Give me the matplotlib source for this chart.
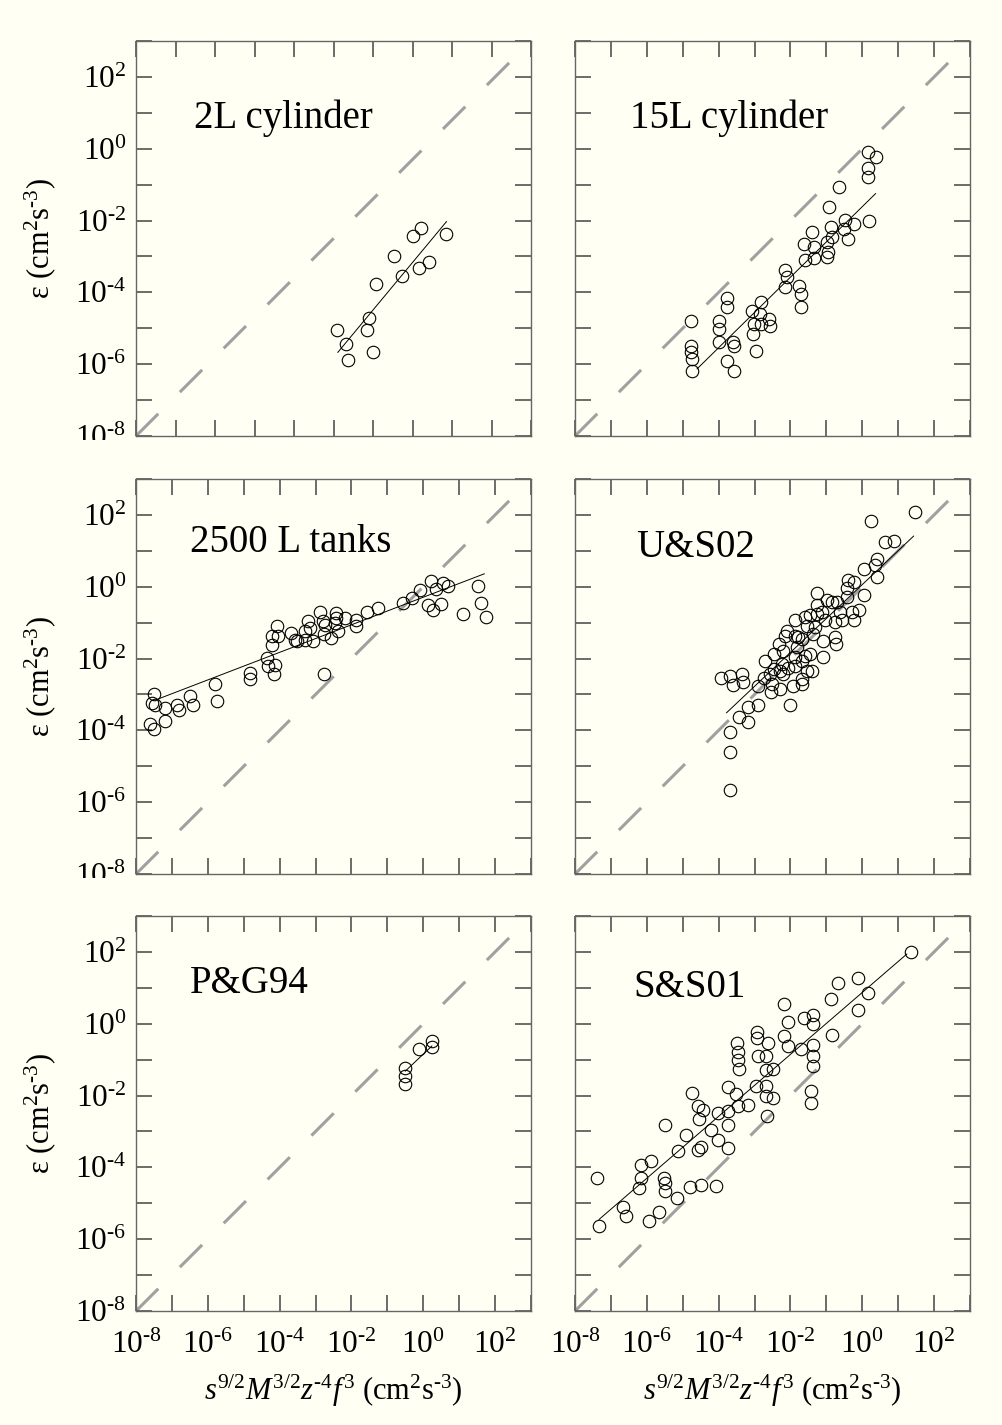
import numpy as np
import matplotlib
matplotlib.use("Agg")
import matplotlib.pyplot as plt
from matplotlib.ticker import FixedLocator, FuncFormatter, NullLocator
from matplotlib.transforms import Bbox, TransformedBbox

plt.rcParams['font.family'] = 'serif'
plt.rcParams['font.serif'] = ['Liberation Serif', 'DejaVu Serif']
plt.rcParams['mathtext.fontset'] = 'custom'
plt.rcParams['mathtext.rm'] = 'Liberation Serif'
plt.rcParams['mathtext.it'] = 'Liberation Serif:italic'

# all values are log10 of the plotted quantity
# 2L cylinder
cyl2_x = [-2.92, -2.68, -2.64, -2.16, -2.09, -2.01, -1.92, -1.48, -1.27, -0.98, -0.78, -0.83, -0.57, -0.14]
cyl2_y = [-5.06, -5.43, -5.88, -5.04, -4.72, -5.65, -3.77, -3.00, -3.55, -2.42, -2.22, -3.31, -3.16, -2.38]
cyl2_fit = ([-2.89, -0.14], [-5.67, -2.03])

# 15L cylinder
cyl15_x = [-4.76, -4.76, -4.76, -4.74, -4.74, -4.00, -3.98, -4.00, -3.78, -3.78, -3.61, -3.58,
           -3.76, -3.58, -3.07, -3.02, -3.04, -2.96, -2.81, -2.84, -2.81, -2.59, -2.56, -2.14,
           -2.09, -2.14, -1.77, -1.72, -1.72, -1.63, -1.60, -1.40, -1.35, -1.35, -0.98, -0.96,
           -0.98, -0.93, -0.87, -0.84, -0.48, -0.51, -0.39, -0.23, -0.65, 0.17, 0.37, 0.17,
           0.17, 0.19]
cyl15_y = [-4.79, -5.48, -5.67, -5.86, -6.20, -4.79, -5.02, -5.39, -4.15, -4.41, -5.39, -5.48,
           -5.92, -6.20, -4.51, -4.88, -5.16, -5.64, -4.27, -4.60, -4.88, -4.74, -4.93, -3.39,
           -3.58, -3.86, -3.81, -4.04, -4.40, -2.65, -3.11, -2.32, -2.74, -3.05, -2.60, -2.88,
           -3.02, -1.62, -2.18, -2.46, -1.98, -2.23, -2.51, -2.09, -1.07, -0.09, -0.23, -0.55,
           -0.79, -2.00]
cyl15_fit = ([-4.60, 0.37], [-6.13, -1.25])

# 2500 L tanks
tank_x = [-7.51, -7.56, -7.46, -7.60, -7.51, -7.19, -7.19, -6.86, -6.81, -6.49, -6.40, -5.80,
          -5.75, -4.82, -4.82, -4.36, -4.33, -4.13, -4.15, -4.22, -4.22, -4.08, -4.04, -3.67,
          -3.53, -3.30, -3.20, -3.06, -2.88, -3.16, -2.79, -2.76, -2.74, -2.56, -2.44, -2.42,
          -2.37, -2.19, -1.88, -1.86, -1.58, -1.26, -0.56, -0.31, -0.10, 0.22, 0.36, 0.55,
          0.69, 0.13, 0.27, 0.50, 1.10, 1.52, 1.61, 1.75, -2.76, -3.30, -3.57, -2.46]
tank_y = [-3.00, -3.23, -3.28, -3.83, -3.97, -3.37, -3.74, -3.28, -3.44, -3.05, -3.28, -2.72,
          -3.17, -2.40, -2.58, -1.98, -2.21, -2.17, -2.42, -1.38, -1.61, -1.10, -1.38, -1.29,
          -1.52, -1.47, -0.96, -1.52, -0.69, -1.15, -0.96, -1.33, -1.06, -1.43, -0.73, -0.87,
          -1.24, -0.87, -0.92, -1.10, -0.69, -0.59, -0.45, -0.31, -0.08, 0.15, -0.06, 0.10,
          0.01, -0.50, -0.64, -0.47, -0.75, 0.03, -0.45, -0.84, -2.44, -1.24, -1.47, -1.01]
tank_fit = ([-7.42, 1.70], [-3.14, 0.36])

# U&S02
us02_x = [1.46, 0.25, 0.64, 0.87, 0.41, 0.36, 0.41, 0.04, 0.04, -0.40, -0.43, -0.24, -1.25,
          -1.27, -0.99, -0.71, -0.61, -0.29, -0.24, -0.57, -0.75, -1.03, -1.45, -1.59, -1.54,
          -1.31, -1.87, -2.10, -1.87, -1.78, -2.15, -1.08, -0.75, -0.73, -1.36, -1.68, -1.82,
          -2.20, -2.47, -1.87, -1.59, -1.45, -1.08, -1.68, -2.24, -1.87, -1.54, -1.40, -2.06,
          -2.29, -2.47, -2.20, -1.68, -1.92, -1.68, -2.57, -2.75, -2.52, -2.89, -2.55, -2.29,
          -2.01, -2.89, -3.17, -3.42, -3.17, -3.68, -3.68, -3.68, -3.94, -3.68, -3.59, -3.36,
          -3.31, -1.27, -1.13, -0.85, -0.43, -0.10, -2.33, -2.71]
us02_y = [2.07, 1.84, 1.25, 1.28, 0.76, 0.60, 0.27, 0.50, -0.24, 0.20, -0.03, 0.13, -0.18,
          -0.52, -0.38, -0.43, -0.71, -0.71, -0.94, -0.94, -0.99, -0.94, -0.80, -0.85, -1.08,
          -1.13, -0.94, -1.22, -1.36, -1.41, -1.36, -1.50, -1.41, -1.60, -1.32, -1.46, -1.69,
          -1.79, -1.86, -1.97, -1.93, -1.88, -1.97, -2.07, -2.16, -2.21, -2.35, -2.35, -2.25,
          -2.35, -2.30, -2.44, -2.58, -2.77, -2.72, -2.44, -2.55, -2.72, -2.77, -2.93, -2.86,
          -3.28, -3.28, -3.36, -3.64, -3.77, -4.05, -4.61, -5.66, -2.55, -2.49, -2.74, -2.42,
          -2.64, -0.76, -0.71, -0.43, -0.29, -0.66, -1.60, -2.07]
us02_fit = ([-3.78, 1.43], [-3.51, 1.41])

# P&G94
pg94_x = [-0.50, -0.50, -0.50, -0.12, 0.24, 0.24]
pg94_y = [-1.24, -1.45, -1.67, -0.70, -0.49, -0.65]
pg94_fit = ([-0.50, 0.24], [-1.32, -0.62])

# S&S01
ss01_x = [1.35, -0.11, -0.67, 0.15, -0.88, -0.11, -2.19, -1.63, -1.37, -2.07, -1.37, -2.19,
          -2.07, -0.84, -1.70, -1.37, -1.37, -1.37, -1.42, -1.42, -2.93, -2.93, -2.91, -2.63,
          -2.67, -2.49, -2.69, -3.48, -3.47, -3.47, -3.42, -3.74, -3.51, -3.47, -3.19, -2.95,
          -2.67, -2.69, -2.49, -2.66, -4.74, -4.58, -4.44, -4.54, -4.02, -3.74, -3.74, -4.21,
          -4.02, -3.73, -4.91, -5.14, -4.58, -4.49, -5.49, -5.89, -6.17, -6.17, -6.21, -5.51,
          -5.49, -5.49, -5.17, -4.80, -4.49, -4.07, -7.38, -6.66, -6.58, -7.33, -5.93, -5.65]
ss01_y = [1.99, 1.26, 1.13, 0.85, 0.70, 0.38, 0.54, 0.17, 0.23, 0.05, -0.02, -0.34,
          -0.62, -0.30, -0.70, -0.60, -0.90, -1.18, -1.88, -2.22, -0.23, -0.39, -0.90, -0.53,
          -0.90, -1.27, -1.29, -0.53, -0.79, -1.01, -1.27, -1.76, -1.97, -2.28, -2.25, -1.74,
          -1.74, -2.02, -2.07, -2.58, -1.94, -2.30, -2.39, -2.65, -2.48, -2.44, -2.81, -2.95,
          -3.23, -3.46, -3.09, -3.55, -3.51, -3.43, -2.81, -3.83, -3.93, -4.30, -4.58, -4.30,
          -4.44, -4.67, -4.86, -4.55, -4.49, -4.53, -4.30, -5.09, -5.35, -5.63, -5.48, -5.23]
ss01_fit = ([-7.33, 1.24], [-5.45, 1.94])

titles = ['2L cylinder', '15L cylinder', '2500 L tanks', 'U&S02', 'P&G94', 'S&S01']
title_pos = [(0.147, 0.805), (0.140, 0.805), (0.137, 0.838), (0.155, 0.826), (0.137, 0.828), (0.147, 0.818)]
panels = [(cyl2_x, cyl2_y, cyl2_fit), (cyl15_x, cyl15_y, cyl15_fit),
          (tank_x, tank_y, tank_fit), (us02_x, us02_y, us02_fit),
          (pg94_x, pg94_y, pg94_fit), (ss01_x, ss01_y, ss01_fit)]
xmax_exp = [2, 3, 3, 3, 3, 3]

W, H = 1003, 1425
bg = '#fffff4'
fig = plt.figure(figsize=(W / 100, H / 100), dpi=100, facecolor=bg)

row_top = [41, 479, 916]
col_left = [136, 575]
size = 395


def exp_label(v, pos):
    e = int(round(np.log10(v)))
    if e % 2:
        return ''
    return r'$\mathregular{10^{\text{%d}}}$' % e


axes = []
for i, (px, py, fit) in enumerate(panels):
    r, c = divmod(i, 2)
    ax = fig.add_axes([col_left[c] / W, 1 - (row_top[r] + size) / H, size / W, size / H])
    ax.set_facecolor(bg)
    ax.set_xscale('log')
    ax.set_yscale('log')
    ax.set_xlim(1e-8, 10.0 ** xmax_exp[i])
    ax.set_ylim(1e-8, 1e3)

    # reference diagonal
    ax.plot([0, 0.962], [0, 0.962], transform=ax.transAxes, color='#a0a0a0',
            lw=2.2, dashes=(10.3, 10.0), zorder=1)
    # regression line
    ax.plot(10.0 ** np.array(fit[0]), 10.0 ** np.array(fit[1]), color='k', lw=0.7, zorder=2)
    ax.plot(10.0 ** np.array(px), 10.0 ** np.array(py), 'o', mfc='none', mec='k',
            ms=9, mew=0.8, zorder=3)

    ax.text(title_pos[i][0], title_pos[i][1], titles[i], transform=ax.transAxes,
            fontsize=28, ha='left', va='center')

    ax.xaxis.set_major_locator(FixedLocator(10.0 ** np.arange(-8, xmax_exp[i] + 1)))
    ax.yaxis.set_major_locator(FixedLocator(10.0 ** np.arange(-8, 4)))
    ax.xaxis.set_minor_locator(NullLocator())
    ax.yaxis.set_minor_locator(NullLocator())
    ax.xaxis.set_major_formatter(FuncFormatter(exp_label))
    ax.yaxis.set_major_formatter(FuncFormatter(exp_label))
    ax.tick_params(which='major', direction='in', length=11.5, width=1.1, color='#444444',
                   top=True, right=True, labelsize=22.5,
                   labelleft=(c == 0), labelbottom=(r == 2))
    ax.tick_params(axis='x', pad=14)
    ax.tick_params(axis='y', pad=7)
    for s in ax.spines.values():
        s.set_color('#666666')
        s.set_linewidth(1.0)
    axes.append(ax)

# axis titles
for r in range(3):
    yc = 1 - (row_top[r] + size / 2) / H
    fig.text(40 / W, yc, r'ε (cm$^{2}$s$^{\text{-3}}$)', rotation=90, fontsize=22,
             ha='center', va='center')
for c in range(2):
    xc = (col_left[c] + size / 2) / W
    fig.text(xc, 1 - 1391 / H, r'$s^{9/2}M^{3/2}z^{\text{-4}}f^{3}$ (cm$^{2}$s$^{\text{-3}}$)',
             fontsize=22, ha='center', va='center')

fig.canvas.draw()
# the lowest y label of the upper rows is cut at the panel edge
for r in range(2):
    ax = axes[2 * r]
    y0 = 1 - (row_top[r] + size + 4) / H
    box = TransformedBbox(Bbox([[0, y0], [0.3, 1]]), fig.transFigure)
    for lab in ax.get_yticklabels():
        lab.set_clip_on(True)
        lab.set_clip_box(box)

fig.savefig('out.png', dpi=100, facecolor=bg)
